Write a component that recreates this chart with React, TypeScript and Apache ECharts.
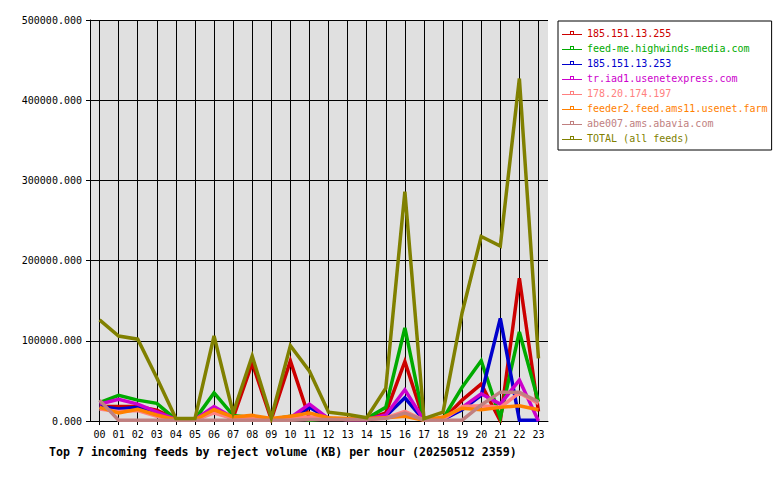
import React, { useEffect, useRef } from "react";
import * as echarts from "echarts";

const hours = ["00","01","02","03","04","05","06","07","08","09","10","11","12","13","14","15","16","17","18","19","20","21","22","23"];
const yTicks = [0, 100000, 200000, 300000, 400000, 500000];

const seriesNames = [
  "185.151.13.255",
  "feed-me.highwinds-media.com",
  "185.151.13.253",
  "tr.iad1.usenetexpress.com",
  "178.20.174.197",
  "feeder2.feed.ams11.usenet.farm",
  "abe007.ams.abavia.com",
  "TOTAL (all feeds)",
];
const seriesColors = ["#cc0000", "#00aa00", "#0000cc", "#cc00cc", "#ff8080", "#ff8000", "#c08080", "#808000"];

const red = [18000,18000,18000,13500,2000,2000,16000,4000,72000,2000,75000,3000,3000,2000,2000,10000,74000,1000,2000,26000,46000,0,178000,12000];
const green = [23000,32000,26000,22000,2000,2000,35000,7000,4000,2000,6000,1000,3000,2000,3000,17000,116000,1000,3000,42000,75000,4000,111000,24000];
const blue = [18000,15000,17000,9000,1000,1000,12000,3000,3000,2000,3000,17000,3000,2000,2000,6000,29000,1000,2000,14000,32000,128000,1000,1000];
const magenta = [21000,27000,21000,11500,2000,2000,18000,4000,4000,2000,4000,21000,3000,2000,2000,7500,39000,1000,2000,17000,34000,21000,51000,0];
const salmon = [15000,12000,13000,6000,1000,1000,10000,3000,3000,2000,3000,5000,3000,2000,2000,4000,12000,1000,2000,18000,19000,17000,35000,22000];
const orange = [17000,10000,14500,7500,1500,1500,14000,5000,7000,3000,6000,10000,4000,3000,3000,4000,6000,1000,5000,16000,14000,17000,19000,14000];
const rosy = [26000,1000,1000,1000,1000,1000,1000,1000,1000,1000,1000,2000,2000,2000,2000,3000,10000,1000,1000,1000,20000,36000,36000,24000];
const total = [126000,106000,102000,54000,3000,3000,106000,10000,81000,4000,94000,62000,11000,8000,4000,41000,286000,3000,11000,135000,230000,218000,427000,78000];

const allData = [red, green, blue, magenta, salmon, orange, rosy, total];

const titleText = "Top 7 incoming feeds by reject volume (KB) per hour (20250512 2359)";
const mono = "DejaVu Sans Mono";
const legendIcon = "path://M0,0M20,10M0,6H20V7H0Z M8,3H12V4H8Z M8,3H9V7H8Z M11,3H12V7H11Z";

export default function App() {
  const ref = useRef<HTMLDivElement>(null);
  useEffect(() => {
    if (!ref.current) return;
    const chart = echarts.init(ref.current, undefined, { renderer: "svg" });
    chart.setOption({
      animation: false,
      backgroundColor: "#ffffff",
      title: {
        text: titleText,
        left: 49,
        top: 445,
        padding: 0,
        textStyle: { fontFamily: mono, fontWeight: "bold", fontSize: 11.6, color: "#000", lineHeight: 14 },
      },
      legend: {
        orient: "vertical",
        left: 558,
        top: 21,
        padding: [7, 4, 7, 4],
        itemGap: 5,
        itemWidth: 20,
        itemHeight: 10,
        itemTextGap: 4,
        borderColor: "#000",
        borderWidth: 1,
        icon: legendIcon,
        textStyle: { fontFamily: mono, fontSize: 10, lineHeight: 10 },
        data: seriesNames.map((n, i) => ({ name: n, textStyle: { color: seriesColors[i] } })),
      },
      grid: {
        left: 90,
        right: 232,
        top: 20,
        bottom: 59,
        show: true,
        backgroundColor: "#e0e0e0",
        borderWidth: 0,
      },
      xAxis: {
        type: "category",
        data: hours,
        boundaryGap: true,
        axisLine: { show: true, lineStyle: { color: "#000", width: 1 } },
        axisTick: { show: true, alignWithLabel: true, length: 4, lineStyle: { color: "#000" } },
        axisLabel: { fontFamily: mono, fontSize: 10, color: "#000", margin: 8, interval: 0 },
        splitLine: { show: true, alignWithLabel: true, interval: 0, lineStyle: { color: "#000", width: 1 } },
      },
      yAxis: {
        type: "value",
        min: yTicks[0],
        max: yTicks[yTicks.length - 1],
        interval: yTicks[1] - yTicks[0],
        axisLine: { show: true, lineStyle: { color: "#000", width: 1 } },
        axisTick: { show: true, length: 4, lineStyle: { color: "#000" } },
        axisLabel: {
          fontFamily: mono,
          fontSize: 10,
          color: "#000",
          margin: 8,
          formatter: (v: number) => v.toFixed(3),
        },
        splitLine: { show: true, lineStyle: { color: "#000", width: 1 } },
      },
      series: seriesNames.map((n, i) => ({
        name: n,
        type: "line",
        data: allData[i],
        symbol: "none",
        showSymbol: false,
        color: seriesColors[i],
        lineStyle: { color: seriesColors[i], width: 3.5, join: "miter" },
        z: 2 + i,
      })),
    });
    return () => chart.dispose();
  }, []);
  return <div ref={ref} style={{ position: "fixed", left: 0, top: 0, width: 780, height: 480 }} />;
}
